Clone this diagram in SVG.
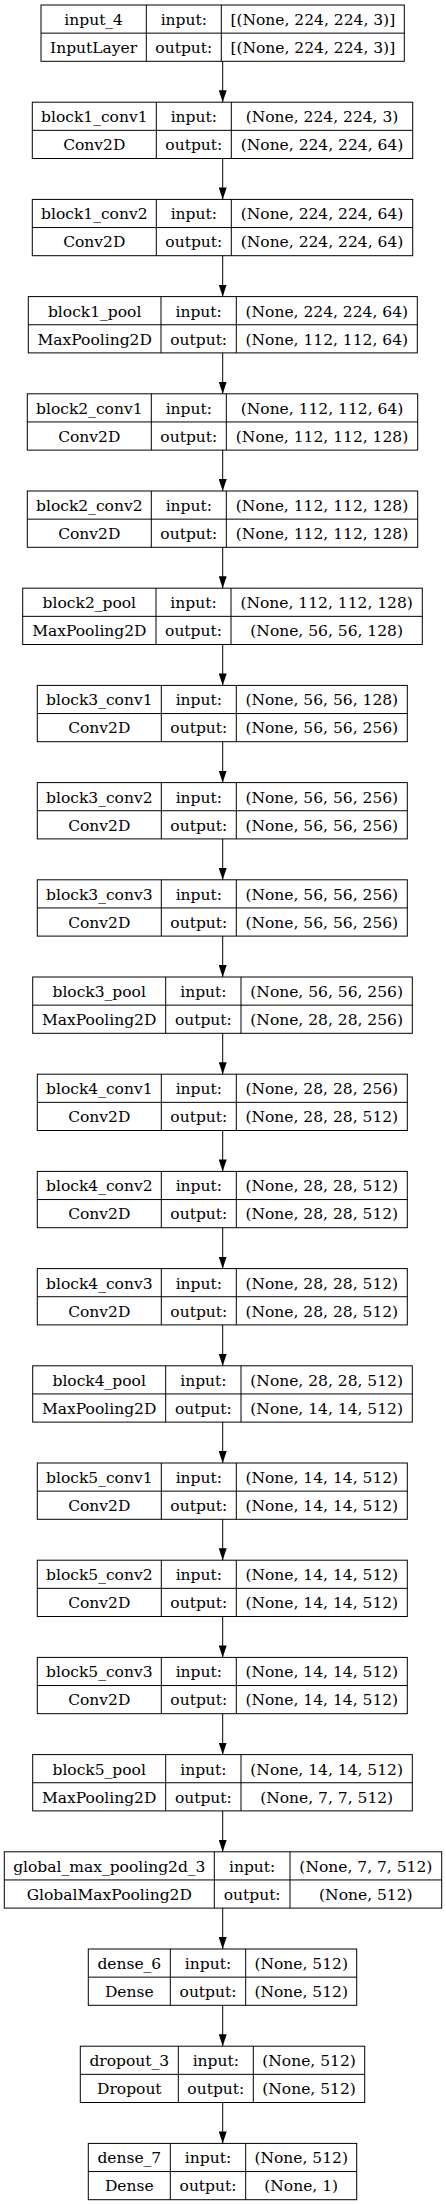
<svg xmlns="http://www.w3.org/2000/svg" width="446" height="2205" viewBox="0 0 446 2205">
<style>
.b{fill:none;stroke:#000;stroke-width:1}
text{font-family:"DejaVu Serif","Liberation Serif",serif;font-size:15.5px;text-anchor:middle;fill:#000}
.e{stroke:#000;stroke-width:1;fill:none}
</style>
<defs>
<marker id="ah" markerUnits="userSpaceOnUse" markerWidth="12" markerHeight="8" refX="12" refY="4" orient="auto"><path d="M0,0 L12,4 L0,8 z" fill="#000"/></marker>
</defs>
<rect width="446" height="2205" fill="#fff"/>
<g id="connectors">
<line class="e" x1="222.7" y1="61.3" x2="222.7" y2="102.2" marker-end="url(#ah)"/>
<line class="e" x1="222.7" y1="158.5" x2="222.7" y2="199.4" marker-end="url(#ah)"/>
<line class="e" x1="222.7" y1="255.7" x2="222.7" y2="296.6" marker-end="url(#ah)"/>
<line class="e" x1="222.7" y1="352.9" x2="222.7" y2="393.8" marker-end="url(#ah)"/>
<line class="e" x1="222.7" y1="450.1" x2="222.7" y2="491" marker-end="url(#ah)"/>
<line class="e" x1="222.7" y1="547.3" x2="222.7" y2="588.2" marker-end="url(#ah)"/>
<line class="e" x1="222.7" y1="644.5" x2="222.7" y2="685.4" marker-end="url(#ah)"/>
<line class="e" x1="222.7" y1="741.7" x2="222.7" y2="782.6" marker-end="url(#ah)"/>
<line class="e" x1="222.7" y1="838.9" x2="222.7" y2="879.8" marker-end="url(#ah)"/>
<line class="e" x1="222.7" y1="936.1" x2="222.7" y2="977" marker-end="url(#ah)"/>
<line class="e" x1="222.7" y1="1033.3" x2="222.7" y2="1074.2" marker-end="url(#ah)"/>
<line class="e" x1="222.7" y1="1130.5" x2="222.7" y2="1171.4" marker-end="url(#ah)"/>
<line class="e" x1="222.7" y1="1227.7" x2="222.7" y2="1268.6" marker-end="url(#ah)"/>
<line class="e" x1="222.7" y1="1324.9" x2="222.7" y2="1365.8" marker-end="url(#ah)"/>
<line class="e" x1="222.7" y1="1422.1" x2="222.7" y2="1463" marker-end="url(#ah)"/>
<line class="e" x1="222.7" y1="1519.3" x2="222.7" y2="1560.2" marker-end="url(#ah)"/>
<line class="e" x1="222.7" y1="1616.5" x2="222.7" y2="1657.4" marker-end="url(#ah)"/>
<line class="e" x1="222.7" y1="1713.7" x2="222.7" y2="1754.6" marker-end="url(#ah)"/>
<line class="e" x1="222.7" y1="1810.9" x2="222.7" y2="1851.8" marker-end="url(#ah)"/>
<line class="e" x1="222.7" y1="1908.1" x2="222.7" y2="1949" marker-end="url(#ah)"/>
<line class="e" x1="222.7" y1="2005.3" x2="222.7" y2="2046.2" marker-end="url(#ah)"/>
<line class="e" x1="222.7" y1="2102.5" x2="222.7" y2="2143.4" marker-end="url(#ah)"/>
</g>
<g id="input_4" transform="translate(0,5)">
<rect class="b" x="41" y="0" width="363.3" height="56.3"/><path class="b" d="M41,28.15H404.3M146.3,0V56.3M221.3,0V56.3"/>
<text x="93.65" y="20">input_4</text><text x="183.8" y="20">input:</text><text x="312.8" y="20">[(None, 224, 224, 3)]</text>
<text x="93.65" y="48">InputLayer</text><text x="183.8" y="48">output:</text><text x="312.8" y="48">[(None, 224, 224, 3)]</text>
</g>
<g id="block1_conv1" transform="translate(0,102.2)">
<rect class="b" x="32.3" y="0" width="380.4" height="56.3"/><path class="b" d="M32.3,28.15H412.7M156.3,0V56.3M231.3,0V56.3"/>
<text x="94.3" y="20">block1_conv1</text><text x="193.8" y="20">input:</text><text x="322" y="20">(None, 224, 224, 3)</text>
<text x="94.3" y="48">Conv2D</text><text x="193.8" y="48">output:</text><text x="322" y="48">(None, 224, 224, 64)</text>
</g>
<g id="block1_conv2" transform="translate(0,199.4)">
<rect class="b" x="32.3" y="0" width="380.4" height="56.3"/><path class="b" d="M32.3,28.15H412.7M156.3,0V56.3M231.3,0V56.3"/>
<text x="94.3" y="20">block1_conv2</text><text x="193.8" y="20">input:</text><text x="322" y="20">(None, 224, 224, 64)</text>
<text x="94.3" y="48">Conv2D</text><text x="193.8" y="48">output:</text><text x="322" y="48">(None, 224, 224, 64)</text>
</g>
<g id="block1_pool" transform="translate(0,296.6)">
<rect class="b" x="28.3" y="0" width="389" height="56.3"/><path class="b" d="M28.3,28.15H417.3M161,0V56.3M236.3,0V56.3"/>
<text x="94.65" y="20">block1_pool</text><text x="198.65" y="20">input:</text><text x="326.8" y="20">(None, 224, 224, 64)</text>
<text x="94.65" y="48">MaxPooling2D</text><text x="198.65" y="48">output:</text><text x="326.8" y="48">(None, 112, 112, 64)</text>
</g>
<g id="block2_conv1" transform="translate(0,393.8)">
<rect class="b" x="27.3" y="0" width="390.4" height="56.3"/><path class="b" d="M27.3,28.15H417.7M151.3,0V56.3M226.3,0V56.3"/>
<text x="89.3" y="20">block2_conv1</text><text x="188.8" y="20">input:</text><text x="322" y="20">(None, 112, 112, 64)</text>
<text x="89.3" y="48">Conv2D</text><text x="188.8" y="48">output:</text><text x="322" y="48">(None, 112, 112, 128)</text>
</g>
<g id="block2_conv2" transform="translate(0,491)">
<rect class="b" x="27.3" y="0" width="390.4" height="56.3"/><path class="b" d="M27.3,28.15H417.7M151.3,0V56.3M226.3,0V56.3"/>
<text x="89.3" y="20">block2_conv2</text><text x="188.8" y="20">input:</text><text x="322" y="20">(None, 112, 112, 128)</text>
<text x="89.3" y="48">Conv2D</text><text x="188.8" y="48">output:</text><text x="322" y="48">(None, 112, 112, 128)</text>
</g>
<g id="block2_pool" transform="translate(0,588.2)">
<rect class="b" x="22.7" y="0" width="399.6" height="56.3"/><path class="b" d="M22.7,28.15H422.3M156,0V56.3M231,0V56.3"/>
<text x="89.35" y="20">block2_pool</text><text x="193.5" y="20">input:</text><text x="326.65" y="20">(None, 112, 112, 128)</text>
<text x="89.35" y="48">MaxPooling2D</text><text x="193.5" y="48">output:</text><text x="326.65" y="48">(None, 56, 56, 128)</text>
</g>
<g id="block3_conv1" transform="translate(0,685.4)">
<rect class="b" x="37.3" y="0" width="370" height="56.3"/><path class="b" d="M37.3,28.15H407.3M161.3,0V56.3M236.3,0V56.3"/>
<text x="99.3" y="20">block3_conv1</text><text x="198.8" y="20">input:</text><text x="321.8" y="20">(None, 56, 56, 128)</text>
<text x="99.3" y="48">Conv2D</text><text x="198.8" y="48">output:</text><text x="321.8" y="48">(None, 56, 56, 256)</text>
</g>
<g id="block3_conv2" transform="translate(0,782.6)">
<rect class="b" x="37.3" y="0" width="370" height="56.3"/><path class="b" d="M37.3,28.15H407.3M161.3,0V56.3M236.3,0V56.3"/>
<text x="99.3" y="20">block3_conv2</text><text x="198.8" y="20">input:</text><text x="321.8" y="20">(None, 56, 56, 256)</text>
<text x="99.3" y="48">Conv2D</text><text x="198.8" y="48">output:</text><text x="321.8" y="48">(None, 56, 56, 256)</text>
</g>
<g id="block3_conv3" transform="translate(0,879.8)">
<rect class="b" x="37.3" y="0" width="370" height="56.3"/><path class="b" d="M37.3,28.15H407.3M161.3,0V56.3M236.3,0V56.3"/>
<text x="99.3" y="20">block3_conv3</text><text x="198.8" y="20">input:</text><text x="321.8" y="20">(None, 56, 56, 256)</text>
<text x="99.3" y="48">Conv2D</text><text x="198.8" y="48">output:</text><text x="321.8" y="48">(None, 56, 56, 256)</text>
</g>
<g id="block3_pool" transform="translate(0,977)">
<rect class="b" x="32.7" y="0" width="379.6" height="56.3"/><path class="b" d="M32.7,28.15H412.3M165.7,0V56.3M241,0V56.3"/>
<text x="99.2" y="20">block3_pool</text><text x="203.35" y="20">input:</text><text x="326.65" y="20">(None, 56, 56, 256)</text>
<text x="99.2" y="48">MaxPooling2D</text><text x="203.35" y="48">output:</text><text x="326.65" y="48">(None, 28, 28, 256)</text>
</g>
<g id="block4_conv1" transform="translate(0,1074.2)">
<rect class="b" x="37.3" y="0" width="370" height="56.3"/><path class="b" d="M37.3,28.15H407.3M161.3,0V56.3M236.3,0V56.3"/>
<text x="99.3" y="20">block4_conv1</text><text x="198.8" y="20">input:</text><text x="321.8" y="20">(None, 28, 28, 256)</text>
<text x="99.3" y="48">Conv2D</text><text x="198.8" y="48">output:</text><text x="321.8" y="48">(None, 28, 28, 512)</text>
</g>
<g id="block4_conv2" transform="translate(0,1171.4)">
<rect class="b" x="37.3" y="0" width="370" height="56.3"/><path class="b" d="M37.3,28.15H407.3M161.3,0V56.3M236.3,0V56.3"/>
<text x="99.3" y="20">block4_conv2</text><text x="198.8" y="20">input:</text><text x="321.8" y="20">(None, 28, 28, 512)</text>
<text x="99.3" y="48">Conv2D</text><text x="198.8" y="48">output:</text><text x="321.8" y="48">(None, 28, 28, 512)</text>
</g>
<g id="block4_conv3" transform="translate(0,1268.6)">
<rect class="b" x="37.3" y="0" width="370" height="56.3"/><path class="b" d="M37.3,28.15H407.3M161.3,0V56.3M236.3,0V56.3"/>
<text x="99.3" y="20">block4_conv3</text><text x="198.8" y="20">input:</text><text x="321.8" y="20">(None, 28, 28, 512)</text>
<text x="99.3" y="48">Conv2D</text><text x="198.8" y="48">output:</text><text x="321.8" y="48">(None, 28, 28, 512)</text>
</g>
<g id="block4_pool" transform="translate(0,1365.8)">
<rect class="b" x="32.7" y="0" width="379.6" height="56.3"/><path class="b" d="M32.7,28.15H412.3M165.7,0V56.3M241,0V56.3"/>
<text x="99.2" y="20">block4_pool</text><text x="203.35" y="20">input:</text><text x="326.65" y="20">(None, 28, 28, 512)</text>
<text x="99.2" y="48">MaxPooling2D</text><text x="203.35" y="48">output:</text><text x="326.65" y="48">(None, 14, 14, 512)</text>
</g>
<g id="block5_conv1" transform="translate(0,1463)">
<rect class="b" x="37.3" y="0" width="370" height="56.3"/><path class="b" d="M37.3,28.15H407.3M161.3,0V56.3M236.3,0V56.3"/>
<text x="99.3" y="20">block5_conv1</text><text x="198.8" y="20">input:</text><text x="321.8" y="20">(None, 14, 14, 512)</text>
<text x="99.3" y="48">Conv2D</text><text x="198.8" y="48">output:</text><text x="321.8" y="48">(None, 14, 14, 512)</text>
</g>
<g id="block5_conv2" transform="translate(0,1560.2)">
<rect class="b" x="37.3" y="0" width="370" height="56.3"/><path class="b" d="M37.3,28.15H407.3M161.3,0V56.3M236.3,0V56.3"/>
<text x="99.3" y="20">block5_conv2</text><text x="198.8" y="20">input:</text><text x="321.8" y="20">(None, 14, 14, 512)</text>
<text x="99.3" y="48">Conv2D</text><text x="198.8" y="48">output:</text><text x="321.8" y="48">(None, 14, 14, 512)</text>
</g>
<g id="block5_conv3" transform="translate(0,1657.4)">
<rect class="b" x="37.3" y="0" width="370" height="56.3"/><path class="b" d="M37.3,28.15H407.3M161.3,0V56.3M236.3,0V56.3"/>
<text x="99.3" y="20">block5_conv3</text><text x="198.8" y="20">input:</text><text x="321.8" y="20">(None, 14, 14, 512)</text>
<text x="99.3" y="48">Conv2D</text><text x="198.8" y="48">output:</text><text x="321.8" y="48">(None, 14, 14, 512)</text>
</g>
<g id="block5_pool" transform="translate(0,1754.6)">
<rect class="b" x="32.7" y="0" width="379.6" height="56.3"/><path class="b" d="M32.7,28.15H412.3M165.7,0V56.3M241,0V56.3"/>
<text x="99.2" y="20">block5_pool</text><text x="203.35" y="20">input:</text><text x="326.65" y="20">(None, 14, 14, 512)</text>
<text x="99.2" y="48">MaxPooling2D</text><text x="203.35" y="48">output:</text><text x="326.65" y="48">(None, 7, 7, 512)</text>
</g>
<g id="global_max_pooling2d_3" transform="translate(0,1851.8)">
<rect class="b" x="4.3" y="0" width="437.4" height="56.3"/><path class="b" d="M4.3,28.15H441.7M214.3,0V56.3M290,0V56.3"/>
<text x="109.3" y="20">global_max_pooling2d_3</text><text x="252.15" y="20">input:</text><text x="365.85" y="20">(None, 7, 7, 512)</text>
<text x="109.3" y="48">GlobalMaxPooling2D</text><text x="252.15" y="48">output:</text><text x="365.85" y="48">(None, 512)</text>
</g>
<g id="dense_6" transform="translate(0,1949)">
<rect class="b" x="88.3" y="0" width="268.4" height="56.3"/><path class="b" d="M88.3,28.15H356.7M170.3,0V56.3M245.7,0V56.3"/>
<text x="129.3" y="20">dense_6</text><text x="208" y="20">input:</text><text x="301.2" y="20">(None, 512)</text>
<text x="129.3" y="48">Dense</text><text x="208" y="48">output:</text><text x="301.2" y="48">(None, 512)</text>
</g>
<g id="dropout_3" transform="translate(0,2046.2)">
<rect class="b" x="80.3" y="0" width="284.4" height="56.3"/><path class="b" d="M80.3,28.15H364.7M178.3,0V56.3M253.3,0V56.3"/>
<text x="129.3" y="20">dropout_3</text><text x="215.8" y="20">input:</text><text x="309" y="20">(None, 512)</text>
<text x="129.3" y="48">Dropout</text><text x="215.8" y="48">output:</text><text x="309" y="48">(None, 512)</text>
</g>
<g id="dense_7" transform="translate(0,2143.4)">
<rect class="b" x="88.3" y="0" width="268.4" height="56.3"/><path class="b" d="M88.3,28.15H356.7M170.3,0V56.3M245.7,0V56.3"/>
<text x="129.3" y="20">dense_7</text><text x="208" y="20">input:</text><text x="301.2" y="20">(None, 512)</text>
<text x="129.3" y="48">Dense</text><text x="208" y="48">output:</text><text x="301.2" y="48">(None, 1)</text>
</g>
</svg>
